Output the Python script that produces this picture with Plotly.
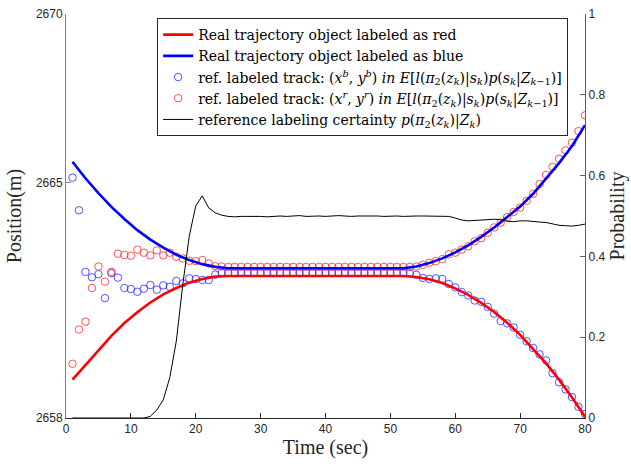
import plotly.graph_objects as go

# ---- data ----
time_s = list(range(1, 81))

blue_track = [2665.14, 2664.17, 2662.34, 2662.18, 2662.27, 2661.56, 2662.30, 2662.17, 2661.86, 2661.83,
              2661.75, 2661.84, 2661.95, 2661.81, 2661.94, 2661.90, 2662.07, 2662.00, 2662.15, 2662.13,
              2662.10, 2662.10, 2662.26, 2662.31, 2662.31, 2662.31, 2662.31, 2662.31, 2662.31, 2662.31,
              2662.31, 2662.31, 2662.31, 2662.31, 2662.31, 2662.31, 2662.31, 2662.31, 2662.31, 2662.31,
              2662.31, 2662.31, 2662.31, 2662.31, 2662.31, 2662.31, 2662.31, 2662.31, 2662.31, 2662.31,
              2662.31, 2662.31, 2662.30, 2662.25, 2662.16, 2662.13, 2662.15, 2662.13, 2661.98, 2661.88,
              2661.74, 2661.64, 2661.49, 2661.45, 2661.30, 2661.10, 2660.88, 2660.81, 2660.69, 2660.47,
              2660.28, 2660.08, 2659.89, 2659.71, 2659.33, 2659.06, 2658.85, 2658.62, 2658.33, 2658.12]

red_track = [2659.61, 2660.63, 2660.86, 2661.86, 2662.50, 2662.05, 2662.34, 2662.88, 2662.84, 2662.82,
             2663.00, 2662.91, 2662.83, 2662.98, 2662.83, 2662.91, 2662.79, 2662.74, 2662.67, 2662.66,
             2662.69, 2662.59, 2662.51, 2662.50, 2662.49, 2662.49, 2662.49, 2662.49, 2662.49, 2662.49,
             2662.49, 2662.49, 2662.49, 2662.49, 2662.49, 2662.49, 2662.49, 2662.49, 2662.49, 2662.49,
             2662.49, 2662.49, 2662.49, 2662.49, 2662.49, 2662.49, 2662.49, 2662.49, 2662.49, 2662.49,
             2662.49, 2662.49, 2662.49, 2662.50, 2662.55, 2662.61, 2662.66, 2662.72, 2662.86, 2662.91,
             2663.00, 2663.10, 2663.25, 2663.34, 2663.50, 2663.66, 2663.80, 2663.97, 2664.12, 2664.25,
             2664.45, 2664.66, 2664.95, 2665.22, 2665.46, 2665.70, 2665.95, 2666.18, 2666.52, 2666.99]

certainty = [0, 0, 0, 0, 0, 0, 0, 0, 0, 0,
             0, 0, 0.004, 0.02, 0.045, 0.10, 0.19, 0.33, 0.45, 0.525,
             0.55, 0.52, 0.508, 0.502, 0.499, 0.498, 0.499, 0.499, 0.500, 0.499,
             0.498, 0.499, 0.500, 0.499, 0.500, 0.501, 0.499, 0.500, 0.500, 0.499,
             0.500, 0.501, 0.500, 0.499, 0.500, 0.500, 0.501, 0.500, 0.499, 0.500,
             0.500, 0.499, 0.500, 0.500, 0.500, 0.500, 0.499, 0.500, 0.499, 0.495,
             0.490, 0.488, 0.489, 0.491, 0.492, 0.492, 0.491, 0.487, 0.486, 0.488,
             0.488, 0.486, 0.485, 0.484, 0.481, 0.477, 0.476, 0.475, 0.477, 0.480]

line_time = [1, 3, 5, 7, 9, 11, 13, 15, 17, 19, 21, 23, 25, 30, 40, 50, 52, 54, 56, 58,
             60, 62, 64, 66, 68, 70, 72, 74, 76, 78, 80]
blue_real = [2665.61, 2665.12, 2664.68, 2664.27, 2663.91, 2663.58, 2663.30, 2663.06, 2662.85, 2662.69,
             2662.57, 2662.49, 2662.45, 2662.45, 2662.45, 2662.45, 2662.45, 2662.50, 2662.60, 2662.74,
             2662.92, 2663.13, 2663.38, 2663.66, 2663.96, 2664.28, 2664.66, 2665.10, 2665.57, 2666.08, 2666.70]
red_real = [2659.14, 2659.57, 2660.03, 2660.44, 2660.82, 2661.14, 2661.43, 2661.67, 2661.86, 2662.02,
            2662.13, 2662.20, 2662.22, 2662.22, 2662.22, 2662.22, 2662.22, 2662.19, 2662.12, 2662.01,
            2661.85, 2661.66, 2661.42, 2661.15, 2660.83, 2660.47, 2660.06, 2659.62, 2659.14, 2658.61, 2658.04]

x_ticks = [0, 10, 20, 30, 40, 50, 60, 70, 80]
y_left_ticks = [2658, 2665, 2670]
y_right_ticks = [0, 0.2, 0.4, 0.6, 0.8, 1]
y_right_labels = ["0", "0.2", "0.4", "0.6", "0.8", "1"]

# ---- labels ----
lbl_red = "Real trajectory object labeled as red"
lbl_blue = "Real trajectory object labeled as blue"
expect = ("<i>in E</i>[<i>l</i>(<i>π</i><sub>2</sub>(<i>z<sub>k</sub></i>)|<i>s<sub>k</sub></i>)"
          "<i>p</i>(<i>s<sub>k</sub></i>|<i>Z</i><sub><i>k</i>−1</sub>)]")
lbl_bt = "ref. labeled track: (<i>x<sup>b</sup></i>, <i>y<sup>b</sup></i>) " + expect
lbl_rt = "ref. labeled track: (<i>x<sup>r</sup></i>, <i>y<sup>r</sup></i>) " + expect
lbl_cert = "reference labeling certainty <i>p</i>(<i>π</i><sub>2</sub>(<i>z<sub>k</sub></i>)|<i>Z<sub>k</sub></i>)"

SERIF = "Liberation Serif"
LEG = "DejaVu Serif"
SANS = "Liberation Sans"

fig = go.Figure()
fig.add_trace(go.Scatter(x=time_s, y=blue_track, mode="markers", name=lbl_bt, legendrank=3,
                         marker=dict(symbol="circle-open", size=7.5, color="rgb(40,40,255)",
                                     line=dict(width=0.8, color="rgb(40,40,255)"))))
fig.add_trace(go.Scatter(x=time_s, y=red_track, mode="markers", name=lbl_rt, legendrank=4,
                         marker=dict(symbol="circle-open", size=7.5, color="rgb(255,40,40)",
                                     line=dict(width=0.8, color="rgb(255,40,40)"))))
fig.add_trace(go.Scatter(x=line_time, y=red_real, mode="lines", name=lbl_red, legendrank=1,
                         line=dict(color="#ff0000", width=2.6)))
fig.add_trace(go.Scatter(x=line_time, y=blue_real, mode="lines", name=lbl_blue, legendrank=2,
                         line=dict(color="#0000ff", width=2.6)))
fig.add_trace(go.Scatter(x=time_s, y=certainty, mode="lines", name=lbl_cert, legendrank=5,
                         yaxis="y2", line=dict(color="black", width=1)))

fig.update_layout(
    width=631, height=464,
    margin=dict(l=66, r=45, t=7, b=46),
    paper_bgcolor="white", plot_bgcolor="white",
    font=dict(family=SERIF, size=16, color="#000000"),
    showlegend=True,
    legend=dict(x=0.1756, y=0.99, xanchor="left", yanchor="top",
                bgcolor="white", bordercolor="#262626", borderwidth=1,
                font=dict(family=LEG, size=14, color="black"),
                tracegroupgap=0, itemwidth=30),
    xaxis=dict(range=[0, 80], tickvals=x_ticks, ticks="inside", ticklen=5,
               tickcolor="#262626", showline=True, linecolor="#262626", linewidth=1,
               showgrid=False, zeroline=False,
               tickfont=dict(family=SANS, size=12, color="#262626"),
               title=dict(text="Time (sec)", font=dict(family=SERIF, size=20, color="#262626"),
                          standoff=3)),
    yaxis=dict(range=[2658, 2670], tickvals=y_left_ticks, ticks="inside", ticklen=5,
               tickcolor="#808080", showline=True, linecolor="#808080", linewidth=1,
               showgrid=False, zeroline=False,
               tickfont=dict(family=SANS, size=12, color="#262626"),
               title=dict(text="Position(m)", font=dict(family=SERIF, size=20, color="#262626"),
                          standoff=8)),
    yaxis2=dict(range=[0, 1], tickvals=y_right_ticks, ticktext=y_right_labels,
                overlaying="y", side="right", ticks="inside", ticklen=5,
                tickcolor="#5a6448", showline=True, linecolor="#5a6448", linewidth=1.2,
                showgrid=False, zeroline=False,
                tickfont=dict(family=SANS, size=12, color="#262626"),
                title=dict(text="Probability", font=dict(family=SERIF, size=20, color="#262626"),
                           standoff=4)),
)

fig.write_html("out.html", config={"displayModeBar": False},
               post_script="document.body.style.margin='0';")
